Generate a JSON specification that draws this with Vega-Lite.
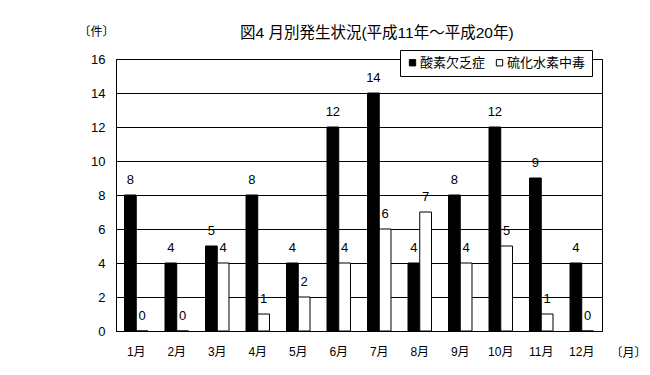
{
  "$schema": "https://vega.github.io/schema/vega-lite/v6.json",
  "autosize": "none",
  "width": 486,
  "height": 272,
  "padding": {"left": 116, "top": 59, "right": 48, "bottom": 44},
  "background": "white",
  "title": {
    "text": "図4 月別発生状況(平成11年～平成20年)",
    "fontSize": 15.5,
    "fontWeight": "normal",
    "color": "black",
    "anchor": "start",
    "dx": 162,
    "offset": -16
  },
  "config": {
    "font": "Liberation Sans, Noto Sans CJK JP",
    "view": {"stroke": "black", "strokeWidth": 1},
    "axis": {"labelColor": "black", "titleColor": "black", "domainColor": "black", "tickColor": "black", "gridColor": "black", "gridOpacity": 1}
  },
  "data": {
    "values": [
      {"month": "1月", "type": "酸素欠乏症", "value": 8},
      {"month": "1月", "type": "硫化水素中毒", "value": 0},
      {"month": "2月", "type": "酸素欠乏症", "value": 4},
      {"month": "2月", "type": "硫化水素中毒", "value": 0},
      {"month": "3月", "type": "酸素欠乏症", "value": 5},
      {"month": "3月", "type": "硫化水素中毒", "value": 4},
      {"month": "4月", "type": "酸素欠乏症", "value": 8},
      {"month": "4月", "type": "硫化水素中毒", "value": 1},
      {"month": "5月", "type": "酸素欠乏症", "value": 4},
      {"month": "5月", "type": "硫化水素中毒", "value": 2},
      {"month": "6月", "type": "酸素欠乏症", "value": 12},
      {"month": "6月", "type": "硫化水素中毒", "value": 4},
      {"month": "7月", "type": "酸素欠乏症", "value": 14},
      {"month": "7月", "type": "硫化水素中毒", "value": 6},
      {"month": "8月", "type": "酸素欠乏症", "value": 4},
      {"month": "8月", "type": "硫化水素中毒", "value": 7},
      {"month": "9月", "type": "酸素欠乏症", "value": 8},
      {"month": "9月", "type": "硫化水素中毒", "value": 4},
      {"month": "10月", "type": "酸素欠乏症", "value": 12},
      {"month": "10月", "type": "硫化水素中毒", "value": 5},
      {"month": "11月", "type": "酸素欠乏症", "value": 9},
      {"month": "11月", "type": "硫化水素中毒", "value": 1},
      {"month": "12月", "type": "酸素欠乏症", "value": 4},
      {"month": "12月", "type": "硫化水素中毒", "value": 0}
    ]
  },
  "encoding": {
    "x": {
      "field": "month",
      "type": "nominal",
      "sort": null,
      "scale": {"paddingInner": 0.42, "paddingOuter": 0.21},
      "axis": {
        "labelAngle": 0,
        "labelFontSize": 12,
        "labelPadding": 19,
        "bandPosition": 0,
        "ticks": true,
        "tickSize": -4,
        "domain": true,
        "title": "〔月〕",
        "titleFontSize": 12,
        "titleFontWeight": "normal",
        "titleX": 512,
        "titleY": 21,
        "titleAlign": "center",
        "titleBaseline": "middle"
      }
    },
    "xOffset": {"field": "type", "type": "nominal", "sort": ["酸素欠乏症", "硫化水素中毒"]},
    "y": {
      "field": "value",
      "type": "quantitative",
      "scale": {"domain": [0, 16], "nice": false},
      "axis": {
        "values": [0, 2, 4, 6, 8, 10, 12, 14, 16],
        "grid": true,
        "gridWidth": 1,
        "ticks": false,
        "domain": true,
        "labelFontSize": 13,
        "labelPadding": 11,
        "title": "〔件〕",
        "titleFontSize": 12,
        "titleFontWeight": "normal",
        "titleAngle": 0,
        "titleX": -20,
        "titleY": -28,
        "titleAlign": "center",
        "titleBaseline": "middle"
      }
    }
  },
  "layer": [
    {
      "mark": {"type": "bar", "stroke": "black", "strokeWidth": 1},
      "encoding": {
        "color": {
          "field": "type",
          "type": "nominal",
          "sort": ["酸素欠乏症", "硫化水素中毒"],
          "scale": {"domain": ["酸素欠乏症", "硫化水素中毒"], "range": ["black", "white"]},
          "legend": {
            "title": null,
            "orient": "none",
            "legendX": 284,
            "legendY": -9,
            "direction": "horizontal",
            "fillColor": "white",
            "strokeColor": "black",
            "padding": 6,
            "labelFontSize": 13,
            "labelColor": "black",
            "labelOffset": 1,
            "columnPadding": 7,
            "symbolType": "square",
            "symbolSize": 40,
            "symbolStrokeColor": "black",
            "symbolStrokeWidth": 1
          }
        }
      }
    },
    {
      "mark": {"type": "text", "baseline": "middle", "dy": -15, "fontSize": 13, "color": "black"},
      "encoding": {"text": {"field": "value", "type": "quantitative"}}
    }
  ]
}
